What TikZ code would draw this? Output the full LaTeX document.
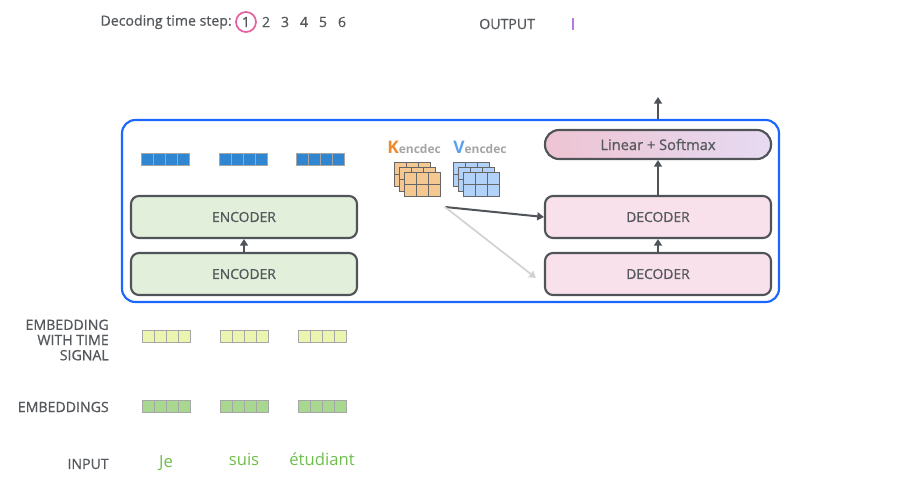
\documentclass[tikz,border=0pt]{standalone}
\usepackage{fontspec}
\setmainfont{Open Sans}
\newfontfamily\semib{Open Sans}[FakeBold=0.8]
\usetikzlibrary{arrows.meta}

\definecolor{txtgray}{RGB}{85,88,92}
\definecolor{boxgray}{RGB}{80,84,88}
\definecolor{framblue}{RGB}{26,102,255}
\definecolor{encfill}{RGB}{226,239,218}
\definecolor{decfill}{RGB}{249,225,236}
\definecolor{linL}{RGB}{238,196,210}
\definecolor{linR}{RGB}{230,218,242}
\definecolor{stepink}{RGB}{228,96,160}
\definecolor{outpurple}{RGB}{186,120,230}
\definecolor{vecblue}{RGB}{48,134,208}
\definecolor{vecyellow}{RGB}{235,245,175}
\definecolor{vecgreen}{RGB}{168,216,144}
\definecolor{wordgreen}{RGB}{110,190,75}
\definecolor{korange}{RGB}{240,137,46}
\definecolor{kfill}{RGB}{246,200,145}
\definecolor{vblue}{RGB}{90,160,240}
\definecolor{vfill}{RGB}{178,210,250}
\definecolor{subgray}{RGB}{165,165,165}

\tikzset{
  lbl/.style={text=txtgray, font=\semib\fontsize{10.6}{12}\selectfont, inner sep=0.75pt},
  stackbox/.style={draw=boxgray, line width=1.6pt, rounded corners=6pt, text=txtgray,
    font=\semib\fontsize{10.4}{11}\selectfont, minimum width=169.5pt, minimum height=31.5pt},
  flow/.style={draw=boxgray, line width=1.5pt, -{Triangle[length=5pt,width=6pt]}},
  cellline/.style={draw=gray!70, line width=0.5pt},
  word/.style={text=wordgreen, font=\fontsize{12.5}{14}\selectfont, inner sep=0.75pt}
}

% a row of four cells
\newcommand{\cellrow}[3]{%
  \foreach \i in {0,...,3}
    {\draw[cellline, fill=#3] ({#1+12*\i},#2) rectangle +(12,12);}%
}
% three stacked 3x2 matrices
\newcommand{\kvstack}[3]{%
  \foreach \l in {2,1,0}
    \foreach \c in {0,1,2}
      \foreach \r in {0,1}
        {\draw[draw=gray!80!black, line width=0.5pt, fill=#3] ({#1-5*\l+12*\c},{#2-5*\l+12*\r}) rectangle +(12,12);}%
}

\begin{document}
\begin{tikzpicture}[x=0.75pt,y=0.75pt,yscale=-1,xscale=1]
\useasboundingbox (0,0) rectangle (900,496);

% Decoding time step
\node[lbl, anchor=east] (steplbl) at (233,22) {Decoding time step:};
\node[lbl, draw=stepink, circle, line width=1.3pt, inner sep=1.2pt, minimum size=15pt] (step1) at (246,22) {1};
\foreach \n/\x in {2/266,3/285,4/304,5/323,6/342}
  \node[lbl] (step\n) at (\x,22) {\n};

% Output
\node[lbl, anchor=west] (outlbl) at (478,24) {OUTPUT};
\draw[outpurple, line width=1.1pt] (573,18) -- (573,30);

% Frame
\node[draw=framblue, line width=1.6pt, rounded corners=10pt, minimum width=492.75pt, minimum height=136.5pt] (frame) at (450.5,211) {};

% Encoder output vectors
\foreach \x in {141,219,296}
  {\cellrow{\x}{153}{vecblue}}

% Encoders
\node[stackbox, fill=encfill] (encA) at (244,274) {ENCODER};
\node[stackbox, fill=encfill] (encB) at (244,217) {ENCODER};
\draw[flow] (encA.north) -- (encB.south);

% K and V
\node[anchor=west, inner sep=0pt] (klbl) at (387,147) {\textcolor{korange}{\fontsize{13}{14}\selectfont\bfseries K}\textcolor{subgray}{\fontsize{9}{10}\selectfont\bfseries encdec}};
\node[anchor=west, inner sep=0pt] (vlbl) at (453,147) {\textcolor{vblue}{\fontsize{13}{14}\selectfont\bfseries V}\textcolor{subgray}{\fontsize{9}{10}\selectfont\bfseries encdec}};
\kvstack{404}{172}{kfill}
\kvstack{463}{172}{vfill}
\coordinate (kv) at (445,207);

% Decoders
\node[stackbox, fill=decfill] (decA) at (658,274) {DECODER};
\node[stackbox, fill=decfill] (decB) at (658,217) {DECODER};
\node[stackbox, left color=linL, right color=linR, minimum height=21.75pt, rounded corners=10.5pt,
  font=\semib\fontsize{11}{12}\selectfont] (lin) at (658,144.5) {Linear + Softmax};
\draw[flow] (decA.north) -- (decB.south);
\draw[flow] (decB.north) -- (lin.south);
\coordinate (out) at (658,97);
\draw[flow] (frame.north -| lin.north) -- (out);

\draw[flow] (kv) -- (decB.west);
\draw[flow, draw=gray!35, line width=1.3pt] (kv) -- ([xshift=-6pt,yshift=3pt]decA.west);

% Left labels
\node[lbl, anchor=east, align=right, font=\semib\fontsize{10.6}{11.4}\selectfont] (tslbl) at (110,340) {EMBEDDING\\WITH TIME\\SIGNAL};
\node[lbl, anchor=east] (emblbl) at (110,407) {EMBEDDINGS};
\node[lbl, anchor=east] (inlbl) at (110,464) {INPUT};

% Embedding vectors
\foreach \x in {142,220,298} {
  \cellrow{\x}{330}{vecyellow}
  \cellrow{\x}{400}{vecgreen}
}

% Input words
\node[word] (w1) at (166,463) {Je};
\node[word] (w2) at (244,459) {suis};
\node[word] (w3) at (322,459) {étudiant};

\end{tikzpicture}
\end{document}
